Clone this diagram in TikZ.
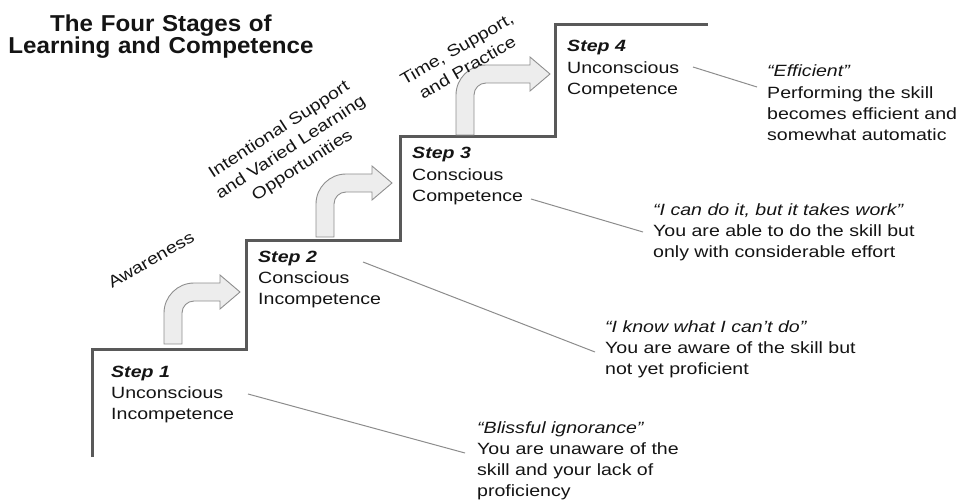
\documentclass[tikz,border=0pt]{standalone}
\usepackage{fontspec}
\setmainfont{Liberation Sans}[FakeStretch=1.2]
\newfontfamily\titlefont{Liberation Sans}[FakeStretch=1.05]
\definecolor{stairgrey}{HTML}{595959}
\definecolor{leadergrey}{HTML}{8C8C8C}
\definecolor{arrowedge}{HTML}{8F8F8F}
\definecolor{arrowfill}{HTML}{EDEDED}
\definecolor{textcol}{HTML}{141414}
\newcommand\bodysize{\fontsize{16.3}{21.3}\selectfont}
% bent arrow: #1 x of stem left, #2 y of stem bottom, #3 rise h, #4 tip length L
\newcommand\bentarrow[4]{%
  \begin{scope}[shift={(#1,#2)}]
    \path[bentarrowstyle] (0,0) -- (0,{-(#3-21)})
      .. controls (0,{-(#3-4.5)}) and (13.5,{-(#3+9)}) .. (30,{-(#3+9)})
      -- ({#4-20},{-(#3+9)}) -- ({#4-20},{-(#3+17)}) -- (#4,{-#3})
      -- ({#4-20},{-(#3-17)}) -- ({#4-20},{-(#3-9)}) -- (30,{-(#3-9)})
      .. controls (23.4,{-(#3-9)}) and (18,{-(#3-14.4)}) .. (18,{-(#3-21)})
      -- (18,0) -- cycle;
  \end{scope}}
\begin{document}
\begin{tikzpicture}[x=1pt,y=-1pt,
  stair/.style={draw=stairgrey, line width=3pt, line join=miter},
  leader/.style={draw=leadergrey, line width=1pt},
  bentarrowstyle/.style={draw=arrowedge, fill=arrowfill, line width=0.9pt, line join=miter},
  txt/.style={anchor=base west, inner sep=0pt, align=left, text width=330pt, font=\bodysize, text=textcol},
  rot/.style={inner sep=0pt, align=center, font=\bodysize, text=textcol}]
\useasboundingbox (0,0) rectangle (964,500);

% title
\node[anchor=base, inner sep=0pt, align=center, text width=340pt,
      font=\titlefont\bfseries\fontsize{23}{22}\selectfont, text=textcol]
      (title) at (161,32) {The Four Stages of\\Learning and Competence};

% staircase
\coordinate (st0) at (92,457);
\coordinate (st1) at (92,349);
\coordinate (st2) at (246,349);
\coordinate (st3) at (246,240);
\coordinate (st4) at (400,240);
\coordinate (st5) at (400,137);
\coordinate (st6) at (555,137);
\coordinate (st7) at (555,25);
\coordinate (st8) at (708,25);
\draw[stair] (st0) -- (st1) -- (st2) -- (st3) -- (st4) -- (st5) -- (st6) -- (st7) -- (st8);

% bent arrows
\bentarrow{164}{344}{52}{76}
\bentarrow{316}{237}{54}{76}
\bentarrow{456}{135}{61}{94}

% rotated labels
\node[rot, rotate=30, text width=110pt] (aw) at (151,260) {Awareness};
\node[rot, rotate=33, text width=200pt] (isup) at (291,148) {Intentional Support\\and Varied Learning\\Opportunities};
\node[rot, rotate=30, text width=150pt] (tsp) at (462,58) {Time, Support,\\and Practice};

% step texts
\node[txt] (s1) at (111,377) {\textbf{\textit{Step 1}}\\Unconscious\\Incompetence};
\node[txt] (s2) at (258,262) {\textbf{\textit{Step 2}}\\Conscious\\Incompetence};
\node[txt] (s3) at (412,159) {\textbf{\textit{Step 3}}\\Conscious\\Competence};
\node[txt] (s4) at (567,52) {\textbf{\textit{Step 4}}\\Unconscious\\Competence};

% descriptions
\node[txt] (q1) at (477,433) {\textit{“Blissful ignorance”}\\You are unaware of the\\skill and your lack of\\proficiency};
\node[txt] (q2) at (605,332) {\textit{“I know what I can’t do”}\\You are aware of the skill but\\not yet proficient};
\node[txt] (q3) at (653,215) {\textit{“I can do it, but it takes work”}\\You are able to do the skill but\\only with considerable effort};
\node[txt] (q4) at (767,77) {\textit{“Efficient”}\\Performing the skill\\becomes efficient and\\somewhat automatic};

% leader lines
\coordinate (l1a) at (248,394); \coordinate (l1b) at (465,453);
\coordinate (l2a) at (363,262); \coordinate (l2b) at (595,352);
\coordinate (l3a) at (531,199); \coordinate (l3b) at (643,232);
\coordinate (l4a) at (693,67);  \coordinate (l4b) at (757,87);
\draw[leader] (l1a) -- (l1b);
\draw[leader] (l2a) -- (l2b);
\draw[leader] (l3a) -- (l3b);
\draw[leader] (l4a) -- (l4b);
\end{tikzpicture}
\end{document}
